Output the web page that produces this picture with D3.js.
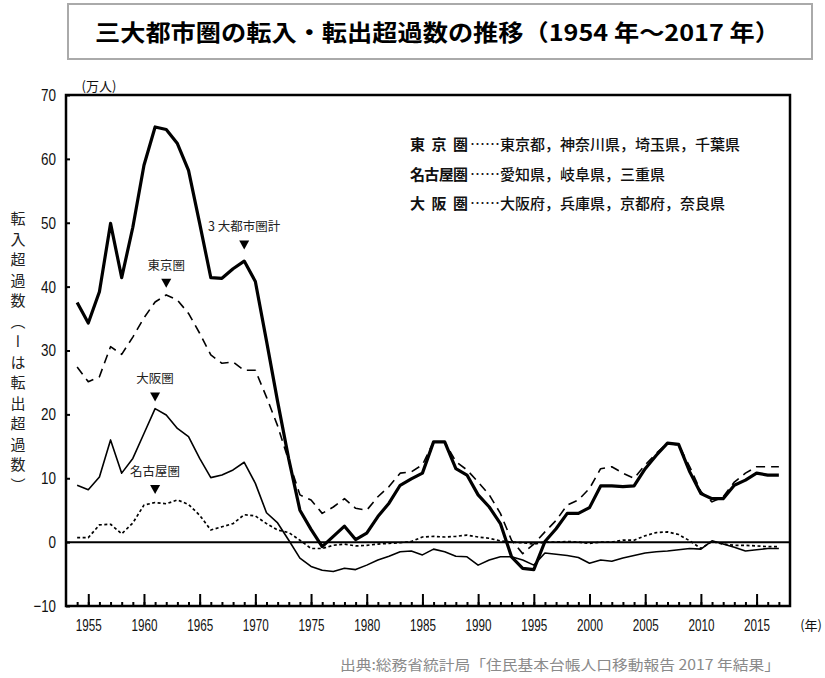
<!DOCTYPE html>
<meta charset="utf-8">
<script src="https://d3js.org/d3.v7.min.js"></script>
<style>
  body { margin: 0; background: #fff; }
  text { font-family: "Noto Sans CJK JP", sans-serif; }
  .num { font-family: "Liberation Sans Narrow", "Arial Narrow", "Liberation Sans", sans-serif; }
</style>
<div id="my_dataviz"></div>
<script>

// Data (万人), 1954-2017
var years = d3.range(1954, 2018);

var total = [37.5, 34.3, 39.2, 49.9, 41.4, 49.3, 59.0, 65.0, 64.6, 62.4,
  58.2, 49.9, 41.4, 41.3, 42.8, 44.0, 40.8, 31.5, 22.0, 13.0,
  5.0, 2.0, -0.7, 0.9, 2.5, 0.4, 1.4, 4.0, 6.1, 8.9,
  9.9, 10.8, 15.7, 15.7, 11.5, 10.5, 7.4, 5.5, 2.9, -2.3,
  -4.1, -4.3, 0.1, 2.1, 4.5, 4.5, 5.4, 8.8, 8.8, 8.7,
  8.8, 11.5, 13.6, 15.5, 15.3, 11.0, 7.6, 6.8, 6.8, 8.9,
  9.7, 10.8, 10.5, 10.5];

var tokyo = [27.4, 25.1, 25.9, 30.6, 29.4, 32.1, 35.1, 37.6, 38.7, 37.9,
  35.8, 32.7, 29.3, 28.0, 28.2, 26.9, 26.9, 22.7, 18.2, 12.7,
  7.4, 6.6, 4.5, 5.5, 6.8, 5.3, 5.0, 7.1, 8.7, 10.8,
  11.0, 12.1, 15.7, 15.7, 12.6, 11.3, 9.4, 7.4, 4.5, 0.3,
  -1.8, -0.3, 1.6, 3.4, 5.8, 6.6, 8.4, 11.5, 11.8, 10.8,
  10.0, 12.1, 13.9, 15.5, 15.2, 11.8, 7.9, 6.3, 7.1, 9.4,
  10.8, 11.8, 11.8, 11.8];

var osaka = [8.9, 8.2, 10.2, 16.0, 10.8, 13.1, 17.0, 20.9, 19.9, 17.8,
  16.5, 13.1, 10.1, 10.5, 11.3, 12.5, 9.2, 4.6, 3.0, 0.3,
  -2.5, -3.8, -4.4, -4.6, -4.1, -4.3, -3.6, -2.8, -2.2, -1.5,
  -1.4, -2.0, -1.1, -1.5, -2.2, -2.3, -3.6, -2.8, -2.3, -2.3,
  -2.8, -3.6, -1.7, -1.9, -2.1, -2.4, -3.3, -2.8, -3.0, -2.5,
  -2.1, -1.7, -1.5, -1.4, -1.2, -1.0, -1.1, 0.2, -0.3, -0.8,
  -1.4, -1.2, -1.0, -1.0];

var nagoya = [0.7, 0.7, 2.7, 2.8, 1.3, 3.0, 5.8, 6.2, 6.0, 6.6,
  5.9, 4.2, 1.9, 2.4, 2.9, 4.3, 4.1, 2.9, 1.9, 1.5,
  0.3, -1.0, -1.0, -0.5, -0.3, -0.6, -0.5, -0.3, -0.2, -0.1,
  0.1, 0.8, 0.9, 0.8, 0.9, 1.1, 0.8, 0.6, 0.2, 0.0,
  -0.1, -0.3, 0.0, 0.0, 0.1, 0.0, -0.2, 0.0, 0.0, 0.3,
  0.3, 1.0, 1.5, 1.6, 1.2, 0.2, -1.0, 0.1, -0.3, -0.5,
  -0.5, -0.6, -0.7, -0.7];

var yTicks = [-10, 0, 10, 20, 30, 40, 50, 60, 70];

var legendRows = [
  { name: "東 京 圏", members: "東京都，神奈川県，埼玉県，千葉県" },
  { name: "名古屋圏", members: "愛知県，岐阜県，三重県" },
  { name: "大 阪 圏", members: "大阪府，兵庫県，京都府，奈良県" }
];

// Labels pointing at the lines
var notes = [
  { label: "3 大都市圏計", year: 1969, value: 46.6 },
  { label: "東京圏", year: 1962, value: 40.6 },
  { label: "大阪圏", year: 1961, value: 22.8 },
  { label: "名古屋圏", year: 1961, value: 8.3 }
];

// Layout
var W = 825, H = 678;
var plotL = 66, plotR = 790, plotT = 95, plotB = 606;

var svg = d3.select("#my_dataviz")
  .append("svg")
    .attr("width", W)
    .attr("height", H);

// Title box
svg.append("rect")
  .attr("x", 68).attr("y", 4)
  .attr("width", 744).attr("height", 55)
  .attr("fill", "#fff")
  .attr("stroke", "#aaa")
  .attr("stroke-width", 2);

svg.append("text")
  .attr("x", 95).attr("y", 41)
  .attr("textLength", 685)
  .attr("lengthAdjust", "spacingAndGlyphs")
  .style("font-size", "23px")
  .style("font-weight", 700)
  .text("三大都市圏の転入・転出超過数の推移（1954 年～2017 年）");

// Scales
var x = d3.scaleLinear().domain([1953, 2018]).range([plotL, plotR]);
var y = d3.scaleLinear().domain([-10, 70]).range([plotB, plotT]);

// Zero line
svg.append("line")
  .attr("x1", plotL).attr("x2", plotR)
  .attr("y1", y(0)).attr("y2", y(0))
  .attr("stroke", "#000")
  .attr("stroke-width", 2);

// Year ticks (inward): minor every year, major every 5
var minorAxis = svg.append("g")
  .attr("transform", "translate(0," + plotB + ")")
  .call(d3.axisBottom(x).tickValues(years).tickSize(-4).tickFormat(""));
minorAxis.select(".domain").remove();

var majorAxis = svg.append("g")
  .attr("transform", "translate(0," + plotB + ")")
  .call(d3.axisBottom(x).tickValues(years.filter(function(d) { return d % 5 === 0; }))
    .tickSize(-12).tickPadding(13).tickFormat(d3.format("d")));
majorAxis.select(".domain").remove();
svg.selectAll(".tick line").attr("stroke", "#000").attr("stroke-width", 2);
majorAxis.selectAll("text")
  .attr("class", "num")
  .attr("textLength", 26)
  .attr("lengthAdjust", "spacingAndGlyphs")
  .style("font-size", "17px")
  .attr("fill", "#111");

// Y axis
var yAxis = svg.append("g")
  .attr("transform", "translate(" + plotL + ",0)")
  .call(d3.axisLeft(y).tickValues(yTicks).tickSize(-4).tickPadding(10));
yAxis.select(".domain").remove();
yAxis.selectAll(".tick line").attr("stroke", "#000").attr("stroke-width", 2);
yAxis.selectAll("text")
  .attr("class", "num")
  .attr("textLength", function(d) { return String(d).length * 7.5; })
  .attr("lengthAdjust", "spacingAndGlyphs")
  .style("font-size", "17px")
  .attr("fill", "#111");

// Lines
var series = [
  { values: total, width: 3.2, dash: null },
  { values: tokyo, width: 1.6, dash: "9,6" },
  { values: osaka, width: 1.6, dash: null },
  { values: nagoya, width: 1.7, dash: "3,2.5" }
];

var line = d3.line()
  .x(function(d, i) { return x(years[i]); })
  .y(function(d) { return y(d); });

svg.append("g").selectAll("path")
  .data(series)
  .enter()
  .append("path")
    .attr("d", function(d) { return line(d.values); })
    .attr("fill", "none")
    .attr("stroke", "#000")
    .attr("stroke-width", function(d) { return d.width; })
    .attr("stroke-linejoin", "round")
    .attr("stroke-dasharray", function(d) { return d.dash; });

// Frame
svg.append("rect")
  .attr("x", plotL).attr("y", plotT)
  .attr("width", plotR - plotL).attr("height", plotB - plotT)
  .attr("fill", "none")
  .attr("stroke", "#000")
  .attr("stroke-width", 2.5);

// Annotations: label above a small down-pointing triangle
var ann = svg.append("g").selectAll("g")
  .data(notes)
  .enter()
  .append("g")
    .attr("transform", function(d) { return "translate(" + x(d.year) + "," + y(d.value) + ")"; });

ann.append("text")
  .attr("text-anchor", "middle")
  .attr("y", -13)
  .style("font-size", "12.5px")
  .attr("fill", "#222")
  .text(function(d) { return d.label; });

ann.append("path")
  .attr("d", "M-5,-4L5,-4L0,5Z")
  .attr("fill", "#000");

// Legend
var legend = svg.append("g").selectAll("text")
  .data(legendRows)
  .enter()
  .append("text")
    .attr("y", function(d, i) { return 150 + i * 29.5; })
    .style("font-size", "15px")
    .attr("fill", "#111");

legend.append("tspan")
  .attr("x", 410)
  .attr("textLength", 58)
  .style("font-weight", 700)
  .text(function(d) { return d.name; });
legend.append("tspan")
  .attr("x", 470)
  .text("……");
legend.append("tspan")
  .attr("x", 500)
  .style("font-weight", 500)
  .text(function(d) { return d.members; });

// Unit labels
svg.append("text")
  .attr("x", 99).attr("y", 91)
  .attr("text-anchor", "middle")
  .style("font-size", "13px")
  .attr("fill", "#111")
  .text("(万人)");

svg.append("text")
  .attr("x", 822).attr("y", 630)
  .attr("text-anchor", "end")
  .style("font-size", "13px")
  .attr("fill", "#111")
  .text("(年)");

// Y axis title, vertical
svg.append("text")
  .attr("x", 18).attr("y", 211)
  .style("writing-mode", "vertical-rl")
  .style("font-size", "15px")
  .style("letter-spacing", "5.5px")
  .attr("fill", "#222")
  .text("転入超過数（ーは転出超過数）");

// Source
svg.append("text")
  .attr("x", 340).attr("y", 670)
  .attr("textLength", 440)
  .attr("lengthAdjust", "spacingAndGlyphs")
  .style("font-size", "14px")
  .attr("fill", "#8a8a8a")
  .text("出典:総務省統計局「住民基本台帳人口移動報告 2017 年結果」");

</script>
